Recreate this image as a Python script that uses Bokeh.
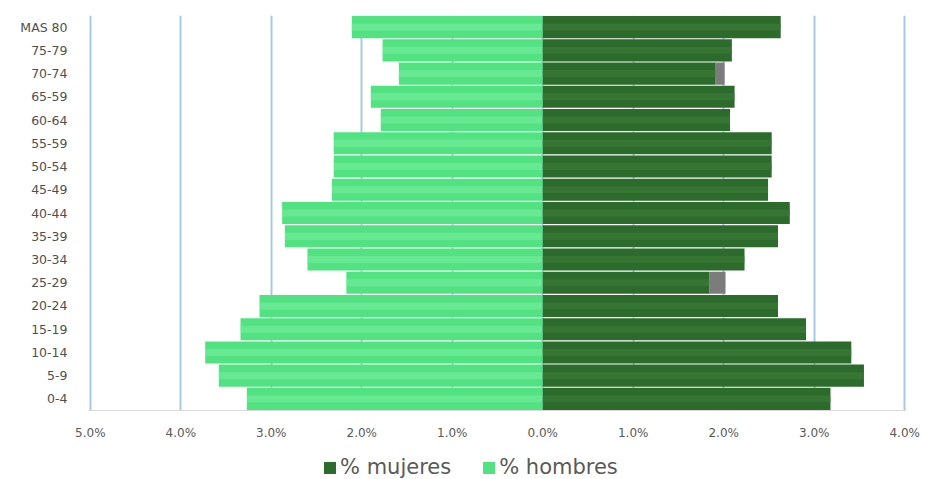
from bokeh.plotting import figure
from bokeh.layouts import column
from bokeh.models import FactorRange, Range1d, FixedTicker, Legend, LegendItem, ColumnDataSource
from bokeh.embed import file_html
from bokeh.resources import INLINE

# Age groups, oldest first (top of the pyramid)
grupos = ["MAS 80", "75-79", "70-74", "65-59", "60-64", "55-59", "50-54", "45-49",
          "40-44", "35-39", "30-34", "25-29", "20-24", "15-19", "10-14", "5-9", "0-4"]

# Share of total population (%)
hombres = [2.11, 1.77, 1.59, 1.90, 1.79, 2.31, 2.31, 2.33,
           2.88, 2.85, 2.60, 2.17, 3.13, 3.34, 3.73, 3.58, 3.27]
mujeres = [2.63, 2.09, 1.91, 2.12, 2.07, 2.53, 2.53, 2.49,
           2.73, 2.60, 2.23, 1.84, 2.60, 2.91, 3.41, 3.55, 3.18]
# small grey remainder drawn past the women's bar
resto = [0, 0, 0.10, 0, 0, 0, 0, 0, 0, 0, 0, 0.18, 0, 0, 0, 0, 0]

x_ticks = [-5, -4, -3, -2, -1, 0, 1, 2, 3, 4]
x_labels = ["5.0%", "4.0%", "3.0%", "2.0%", "1.0%", "0.0%", "1.0%", "2.0%", "3.0%", "4.0%"]
series = ["% mujeres", "% hombres"]

FONT = "DejaVu Sans"
LIGHT = "#52e282"
LIGHT_TOP = "#86f0a8"
DARK = "#2c6b2c"
DARK_TOP = "#3d7b3b"

src = ColumnDataSource(dict(
    g=grupos,
    h_left=[-v for v in hombres],
    m_right=mujeres,
    r_right=[m + r for m, r in zip(mujeres, resto)],
    zero=[0] * len(grupos),
))

p = figure(width=926, height=448, output_backend="svg", toolbar_location=None,
           x_range=Range1d(-5.02, 4.02),
           y_range=FactorRange(factors=list(reversed(grupos)), range_padding=0),
           min_border_left=88, min_border_right=20, min_border_top=15, min_border_bottom=38)
p.outline_line_color = None

# bars: left side men, right side women, each with a lighter top band
p.hbar(y="g", left="h_left", right="zero", height=0.95, source=src,
       fill_color=LIGHT, line_color=None)
p.hbar(y="g", left="h_left", right="zero", height=0.3, source=src,
       fill_color=LIGHT_TOP, line_color=None, fill_alpha=0.45)
p.hbar(y="g", left="m_right", right="r_right", height=0.95, source=src,
       fill_color="#7c7c7c", line_color=None)
p.hbar(y="g", left="zero", right="m_right", height=0.95, source=src,
       fill_color=DARK, line_color=None)
p.hbar(y="g", left="zero", right="m_right", height=0.3, source=src,
       fill_color=DARK_TOP, line_color=None, fill_alpha=0.6)

# axes
p.xaxis.ticker = FixedTicker(ticks=x_ticks)
p.xaxis.major_label_overrides = {t: l for t, l in zip(x_ticks, x_labels)}
p.xaxis.major_tick_line_color = None
p.xaxis.minor_tick_line_color = None
p.xaxis.axis_line_color = "#d9d9d9"
p.xaxis.major_label_text_font = FONT
p.xaxis.major_label_text_font_size = "12px"
p.xaxis.major_label_text_color = "#595959"
p.xaxis.major_label_standoff = 9

p.yaxis.axis_line_color = None
p.yaxis.major_tick_line_color = None
p.yaxis.minor_tick_line_color = None
p.yaxis.major_label_text_font = FONT
p.yaxis.major_label_text_font_size = "12.5px"
p.yaxis.major_label_text_color = "#505050"
p.yaxis.major_label_standoff = 15

p.xgrid.grid_line_color = "#a8c8e4"
p.xgrid.grid_line_width = 2
p.ygrid.grid_line_color = None

# legend strip underneath the chart; its swatch glyphs sit outside the visible range
leg = figure(width=926, height=31, output_backend="svg", toolbar_location=None,
             x_axis_type=None, y_axis_type=None, x_range=Range1d(0, 1), y_range=Range1d(0, 1),
             min_border=0)
leg.outline_line_color = None
leg.xgrid.grid_line_color = None
leg.ygrid.grid_line_color = None
swatch = ColumnDataSource(dict(x=[-10], y=[-10]))
r_m = leg.rect(x="x", y="y", width=1, height=1, source=swatch, fill_color=DARK, line_color=None)
r_h = leg.rect(x="x", y="y", width=1, height=1, source=swatch, fill_color=LIGHT, line_color=None)
legend = Legend(items=[LegendItem(label=series[0], renderers=[r_m]),
                       LegendItem(label=series[1], renderers=[r_h])],
                orientation="horizontal", location=(234, 0),
                label_text_font=FONT, label_text_font_size="21px",
                label_text_color="#595959", glyph_width=15, glyph_height=15,
                spacing=30, label_standoff=3, border_line_color=None,
                background_fill_alpha=0, padding=0, margin=0)
leg.add_layout(legend, "center")

open("out.html", "w").write(file_html(column(p, leg, spacing=0), INLINE))
